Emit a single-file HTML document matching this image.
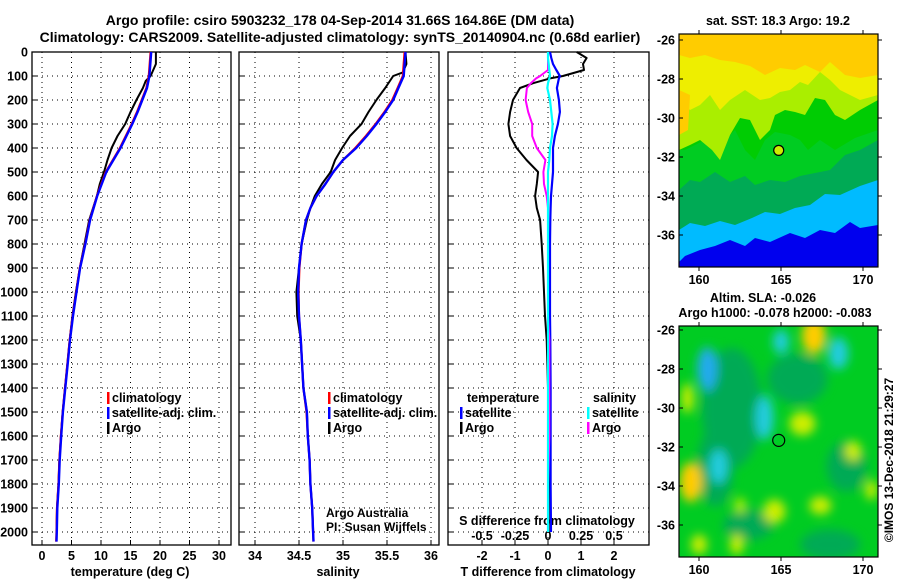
<!DOCTYPE html>
<html><head><meta charset="utf-8">
<style>
html,body{margin:0;padding:0;background:#fff;}
svg{display:block;font-family:"Liberation Sans",Arial,sans-serif;}
.b{font-weight:bold;font-size:12.5px;}
.t{font-weight:bold;font-size:14px;}
</style></head>
<body>
<svg id="fig" width="900" height="580" viewBox="0 0 900 580">
<defs>
<filter id="blur4" x="-50%" y="-50%" width="200%" height="200%"><feGaussianBlur stdDeviation="5"/></filter>
<clipPath id="clipTop"><rect x="679" y="34" width="199" height="233"/></clipPath>
<clipPath id="clipBot"><rect x="679" y="326" width="199" height="231"/></clipPath>
</defs>
<text class="t" x="340" y="25" text-anchor="middle">Argo profile: csiro 5903232_178 04-Sep-2014 31.66S 164.86E (DM data)</text>
<text class="t" x="340" y="42" text-anchor="middle">Climatology: CARS2009. Satellite-adjusted climatology: synTS_20140904.nc (0.68d earlier)</text>
<g id="plots"></g>
<g id="maps"></g>
</svg>
<script>
// ---- data ----
const depthTicks=[0,100,200,300,400,500,600,700,800,900,1000,1100,1200,1300,1400,1500,1600,1700,1800,1900,2000];
const tempTicks=[0,5,10,15,20,25,30];
const salTicks=[34,34.5,35,35.5,36];
const salTickLabels=["34","34.5","35","35.5","36"];
const tdiffTicks=[-2,-1,0,1,2];
const sdiffTicks=[-0.5,-0.25,0,0.25,0.5];
const sdiffTickLabels=["-0.5","-0.25","0","0.25","0.5"];

const climDepth=[0,100,150,200,250,300,400,500,600,700,800,900,1000,1100,1200,1300,1400,1500,1600,1700,1800,1900,2000,2040];
const climTemp=[18.4,18.1,17.7,16.9,16.1,15.2,13.2,10.8,9.3,8.1,7.3,6.4,5.8,5.2,4.7,4.3,3.9,3.5,3.2,2.95,2.8,2.55,2.45,2.4];
const satTemp=[18.5,18.2,17.8,17.0,16.2,15.3,13.3,10.9,9.35,8.15,7.35,6.45,5.85,5.25,4.75,4.35,3.95,3.55,3.25,3.0,2.85,2.6,2.5,2.45];
const argoTDepth=[0,50,100,120,150,200,250,300,350,400,450,500,550,600,700,800,900,1000,1100,1200,1300,1400,1500,1600,1700,1800,1900,2000];
const argoTemp=[19.3,19.3,18.4,17.6,17.1,16.0,15.0,14.1,12.8,11.8,11.1,10.5,9.8,9.3,8.0,7.2,6.4,5.75,5.15,4.7,4.3,3.9,3.5,3.2,2.95,2.8,2.55,2.45];

const salDepth=[0,100,150,200,250,300,350,400,450,500,550,600,650,700,800,900,1000,1100,1200,1300,1400,1500,1600,1700,1800,1900,2000,2040];
const climSal=[35.70,35.68,35.62,35.56,35.47,35.37,35.26,35.14,35.0,34.89,34.80,34.70,34.63,34.58,34.53,34.505,34.495,34.50,34.52,34.535,34.55,34.585,34.60,34.62,34.63,34.65,34.66,34.665];
const satSal=[35.71,35.69,35.63,35.57,35.48,35.38,35.27,35.15,35.0,34.89,34.80,34.70,34.63,34.58,34.53,34.50,34.49,34.50,34.52,34.535,34.55,34.59,34.60,34.62,34.63,34.65,34.66,34.665];
const argoSDepth=[0,50,85,100,150,200,250,300,350,400,450,500,550,600,650,700,800,900,1000,1100,1200,1300,1400,1500,1600,1700,1800,1900,2000];
const argoSal=[35.71,35.72,35.68,35.57,35.48,35.38,35.29,35.21,35.08,34.99,34.91,34.86,34.76,34.68,34.63,34.59,34.53,34.50,34.47,34.48,34.52,34.535,34.55,34.59,34.60,34.62,34.63,34.65,34.66];

const diffDepth=[0,25,50,75,100,110,130,150,200,250,300,350,400,450,500,550,600,650,700,800,900,1000,1100,1200,1400,1600,1800,2000];
const argoTdiff=[0.87,1.17,1.06,1.09,0.45,0.06,-0.45,-0.85,-1.06,-1.15,-1.2,-1.15,-0.95,-0.65,-0.3,-0.34,-0.39,-0.34,-0.24,-0.19,-0.15,-0.12,-0.09,-0.04,0.0,0.02,0.02,0.02];
const satTdiff=[0.06,0.1,0.15,0.25,0.36,0.33,0.3,0.27,0.33,0.36,0.3,0.21,0.15,0.15,0.15,0.12,0.09,0.08,0.07,0.06,0.06,0.06,0.06,0.07,0.08,0.08,0.08,0.09];
const argoSdiff=[0.0,0.0,0.0,0.0,-0.06,-0.09,-0.13,-0.16,-0.17,-0.15,-0.12,-0.12,-0.085,-0.02,-0.035,-0.03,-0.01,0.0,0.0,0.0,0.0,0.0,0.0,0.01,0.01,0.01,0.0,0.0];
const satSdiff=[0.0,0.0,0.005,0.01,0.015,0.01,0.0,-0.005,0.015,0.025,0.035,0.03,0.015,0.01,0.0,0.0,0.0,0.0,0.0,0.0,0.0,0.0,0.0,0.0,0.0,0.0,0.0,0.0];

// ---- scales ----
const yD=d=>52+d*0.24;
const xT=t=>42+t*5.9;
const xS=s=>255+(s-34)*88;
const xTd=v=>548+v*33;
const xSd=v=>548+v*132;
const NS="http://www.w3.org/2000/svg";
const g=document.getElementById('plots');
function mk(tag,attrs,parent){const e=document.createElementNS(NS,tag);for(const k in attrs)e.setAttribute(k,attrs[k]);(parent||g).appendChild(e);return e;}
function txt(x,y,s,cls,anchor,parent){const e=mk('text',{x:x,y:y,'class':cls||'b','text-anchor':anchor||'start'},parent);e.textContent=s;return e;}

const panels=[{l:32,r:231,name:'temperature-panel'},{l:239,r:439,name:'salinity-panel'},{l:448,r:649,name:'difference-panel'}];
const plotTop=52,plotBot=545;
panels.forEach(p=>{
  const r=mk('rect',{x:p.l,y:plotTop,width:p.r-p.l,height:plotBot-plotTop,fill:'none',stroke:'#000','stroke-width':1.3});
  
  
  depthTicks.forEach(d=>{
    const l=mk('line',{x1:p.l,x2:p.r,y1:yD(d),y2:yD(d),stroke:'#000','stroke-dasharray':'1 4','stroke-width':1});
    
    
    mk('line',{x1:p.l,x2:p.l+5,y1:yD(d),y2:yD(d),stroke:'#000'});
  });
});
depthTicks.forEach(d=>{
  const t=txt(28,yD(d)+4.5,String(d),'b','end');
  
  
});
function vgrid(ticks,fx,labels,ly){
  ticks.forEach((v,i)=>{
    const x=fx(v);
    const l=mk('line',{x1:x,x2:x,y1:plotTop,y2:plotBot,stroke:'#000','stroke-dasharray':'1 4'});
    
    
    mk('line',{x1:x,x2:x,y1:plotBot-5,y2:plotBot,stroke:'#000'});
    if(labels){const t=txt(x,ly,labels[i],'b','middle');
      
      }
  });
}
vgrid(tempTicks,xT,tempTicks.map(String),560);
vgrid(salTicks,xS,salTickLabels,560);
vgrid(tdiffTicks,xTd,tdiffTicks.map(String),560);
let e;
e=txt(130,576,'temperature (deg C)','b','middle');

e=txt(338,576,'salinity','b','middle');

e=txt(548,576,'T difference from climatology','b','middle');

e=txt(547,525,'S difference from climatology','b','middle');

sdiffTicks.forEach((v,i)=>{const t=txt(xSd(v),540,sdiffTickLabels[i],'b','middle');
  });
e=txt(326,517,'Argo Australia','', 'start');e.setAttribute('style','font-size:12px');

e=txt(326,531,'PI: Susan Wijffels','','start');e.setAttribute('style','font-size:12px');


function line(xs,ds,fx,color,w,name){
  const pts=xs.map((v,i)=>fx(v).toFixed(1)+','+yD(ds[i]).toFixed(1)).join(' ');
  const l=mk('polyline',{points:pts,fill:'none',stroke:color,'stroke-width':w,'stroke-linejoin':'round'});
  
  
}
line(argoTemp,argoTDepth,xT,'#000',2,'argo-temperature-line');
line(climTemp,climDepth,xT,'#f00',2.2,'climatology-temperature-line');
line(satTemp,climDepth,xT,'#00f',2.4,'satellite-temperature-line');
line(argoSal,argoSDepth,xS,'#000',2,'argo-salinity-line');
line(climSal,salDepth,xS,'#f00',2.2,'climatology-salinity-line');
line(satSal,salDepth,xS,'#00f',2.4,'satellite-salinity-line');
line(argoTdiff,diffDepth,xTd,'#000',2,'argo-t-diff-line');
line(satTdiff,diffDepth,xTd,'#00f',2.2,'satellite-t-diff-line');
line(argoSdiff,diffDepth,xSd,'#f0f',2,'argo-s-diff-line');
line(satSdiff,diffDepth,xSd,'#0ff',2.2,'satellite-s-diff-line');

function legend(x,y,items,nm){
  items.forEach((it,i)=>{
    const yy=y+i*15;
    mk('rect',{x:x,y:yy-10,width:2.5,height:12,fill:it[1]});
    const t=txt(x+5,yy,it[0],'b','start');
    
    
  });
}
legend(107,402,[['climatology','#f00'],['satellite-adj. clim.','#00f'],['Argo','#000']],'temp-legend');
legend(328,402,[['climatology','#f00'],['satellite-adj. clim.','#00f'],['Argo','#000']],'sal-legend');
e=txt(467,402,'temperature','b','start');
e=txt(593,402,'salinity','b','start');
legend(460,417,[['satellite','#00f'],['Argo','#000']],'tdiff-legend');
legend(587,417,[['satellite','#0ff'],['Argo','#f0f']],'sdiff-legend');

// ---- maps ----
const mg=document.getElementById('maps');
const lonX=lon=>699+(lon-160)*16.4;
function mapFrame(y0,h,latY,name){
  const r=mk('rect',{x:679,y:y0,width:199,height:h,fill:'none',stroke:'#000','stroke-width':1.2},mg);
  
  [160,165,170].forEach(l=>{const x=lonX(l);
    mk('line',{x1:x,x2:x,y1:y0-4,y2:y0,stroke:'#000'},mg);
    mk('line',{x1:x,x2:x,y1:y0+h,y2:y0+h+4,stroke:'#000'},mg);
    const t=txt(x,y0+h+17,String(l),'b','middle',mg);
    });
  [-26,-28,-30,-32,-34,-36].forEach(la=>{const y=latY(la);
    mk('line',{x1:679,x2:683,y1:y,y2:y,stroke:'#000'},mg);
    mk('line',{x1:878,x2:882,y1:y,y2:y,stroke:'#000'},mg);
    const t=txt(675,y+4.5,String(la),'b','end',mg);
    });
}
const latT=la=>40+(-26-la)*19.5;
const tg=mk('g',{'clip-path':'url(#clipTop)'},mg);

mk('rect',{x:679,y:34,width:199,height:233,fill:'#0000ee'},tg);
mk('path',{d:'M679,34H878V225L860,228L850,222L835,233L820,230L805,238L790,233L770,242L755,238L745,246L730,240L715,246L700,250L685,256L679,262Z',fill:'#00bbff'},tg);
mk('path',{d:'M679,34H878V180L860,186L840,195L825,194L810,205L795,208L780,214L765,212L752,218L735,225L720,221L705,226L690,223L679,230Z',fill:'#00aa55'},tg);
mk('path',{d:'M679,34H878V140L860,150L845,155L830,170L815,173L800,176L785,182L770,180L755,185L745,176L730,182L715,172L700,182L690,180L679,190Z',fill:'#00cc22'},tg);
mk('path',{d:'M679,34H878V130L855,138L835,150L820,140L808,150L800,140L790,135L775,132L765,140L755,160L745,150L735,130L725,140L715,130L705,140L695,145L685,150L679,150Z',fill:'#00cc00',opacity:0.9},tg);
mk('path',{d:'M679,34H878V100L860,110L845,120L835,115L825,100L815,98L805,115L795,112L785,110L775,115L770,130L760,140L750,120L740,118L730,135L720,160L712,150L700,140L690,145L679,150Z',fill:'#aaee00'},tg);
mk('path',{d:'M679,34H878V95L860,100L840,90L830,80L820,72L808,85L800,82L790,90L780,92L770,98L760,100L745,90L730,100L720,110L710,95L700,105L690,110L679,100Z',fill:'#eeee00'},tg);
mk('path',{d:'M679,34H878V75L860,78L845,75L830,62L820,72L805,65L795,70L780,68L765,75L750,66L735,62L720,60L705,55L690,58L679,55Z',fill:'#ffcc00'},tg);
mk('path',{d:'M679,90L690,95L688,130L679,135Z',fill:'#ffcc00'},tg);
mapFrame(34,233,latT,'sst-map');
e=mk('circle',{cx:lonX(164.86),cy:latT(-31.66),r:5,fill:'#ccee00',stroke:'#000','stroke-width':1.2},mg);

e=txt(778,25,'sat. SST: 18.3 Argo: 19.2','b','middle',mg);


const latB=la=>330+(-26-la)*19.5;
const bg=mk('g',{'clip-path':'url(#clipBot)'},mg);

mk('rect',{x:679,y:326,width:199,height:231,fill:'#00cc22'},bg);
const bl=mk('g',{filter:'url(#blur4)'},bg);
[[162,-30,30,60,'#00aa55'],[166,-28.5,30,25,'#00aa55'],[161,-33,18,40,'#00aa55'],[169,-33,20,25,'#00aa55'],[163,-36,25,15,'#00aa55'],[168,-37,30,15,'#00aa55'],
 [160.5,-28,10,22,'#22aaee'],[164,-30.5,9,22,'#22ccdd'],[161.2,-33,9,17,'#22ccdd'],[165,-26.6,8,12,'#22ccdd'],[168.5,-27.2,10,16,'#22ccdd'],
 [167,-26.3,12,18,'#ffcc00'],[166.3,-30.8,13,12,'#ccee00'],[159.5,-33.8,11,20,'#ffcc00'],[164.6,-35.3,11,12,'#ccee00'],[167.4,-35,11,9,'#ccee00'],[169.4,-32.2,8,10,'#ccee00'],
 [159.3,-29.5,6,15,'#ccee00'],[162.3,-37,7,10,'#ccee00'],[160,-37,8,10,'#ccee00'],[170.5,-34.2,6,10,'#ccee00'],[162.5,-35,6,8,'#aaee00']]
 .forEach(b=>mk('ellipse',{cx:lonX(b[0]),cy:latB(b[1]),rx:b[2],ry:b[3],fill:b[4]},bl));
mapFrame(326,231,latB,'sla-map');
e=mk('circle',{cx:lonX(164.86),cy:latB(-31.66),r:6,fill:'none',stroke:'#000','stroke-width':1.2},mg);

e=txt(763,302,'Altim. SLA: -0.026','b','middle',mg);

e=txt(775,317,'Argo h1000: -0.078 h2000: -0.083','b','middle',mg);

e=txt(0,0,'©IMOS 13-Dec-2018 21:29:27','','middle',mg);
e.setAttribute('style','font-size:12px');
e.setAttribute('transform','translate(893,460) rotate(-90)');

</script>
</body></html>
